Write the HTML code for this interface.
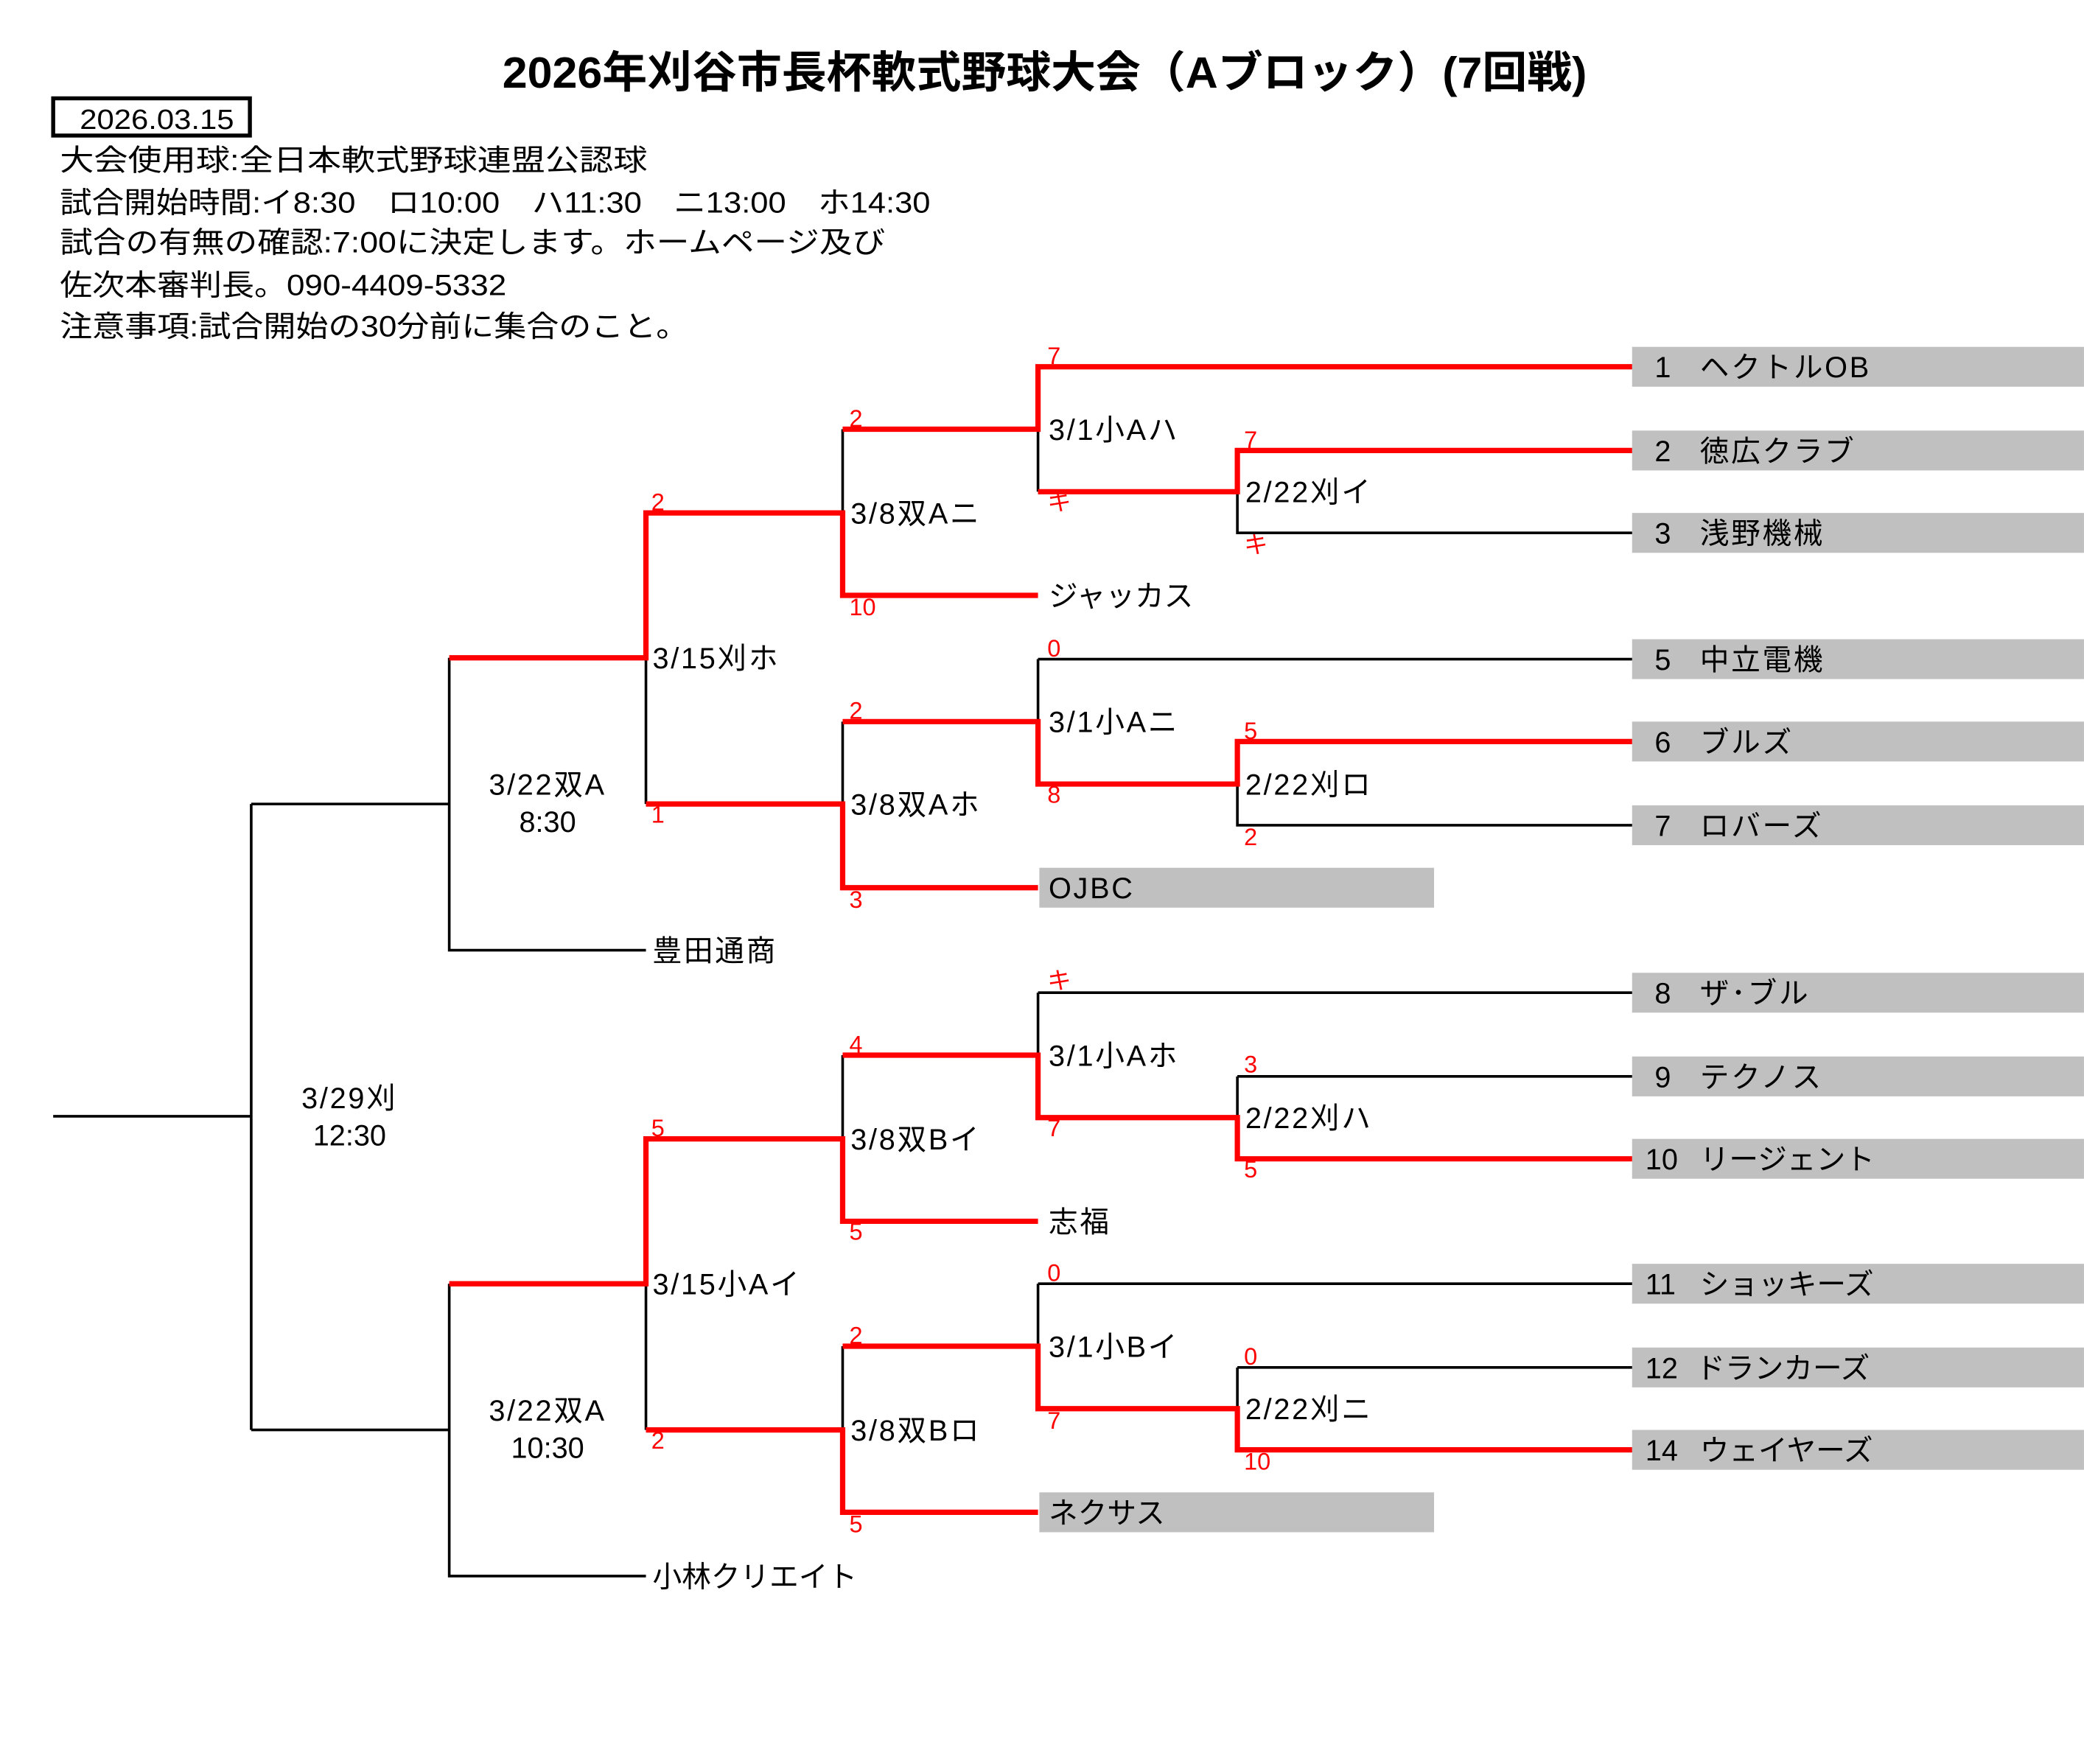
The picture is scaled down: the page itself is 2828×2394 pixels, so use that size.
<!DOCTYPE html>
<html><head><meta charset="utf-8">
<style>
html,body{margin:0;padding:0;background:#fff;}
svg{display:block;}
text{font-family:"Liberation Sans","Noto Sans CJK JP",sans-serif;}
.t{font-size:22px;fill:#000;}
.l{letter-spacing:1.5px;}
.s{font-size:18px;fill:#f00;}
.k{stroke:#000;stroke-width:2;fill:none;}
.r{stroke:#f00;stroke-width:4;fill:none;}
</style></head><body>
<svg width="2828" height="2394" viewBox="0 0 1568 1327.4" xmlns="http://www.w3.org/2000/svg">
<rect x="0" y="0" width="1568" height="1328" fill="#fff"/>
<text x="786" y="66" text-anchor="middle" font-size="33" font-weight="bold" textLength="816" lengthAdjust="spacingAndGlyphs">2026年刈谷市長杯軟式野球大会（Aブロック）(7回戦)</text>
<rect x="40" y="74" width="148" height="28" fill="none" stroke="#000" stroke-width="3"/>
<text x="60" y="97" font-size="21" textLength="116" lengthAdjust="spacingAndGlyphs">2026.03.15</text>
<text class="t" x="45" y="128" textLength="442" lengthAdjust="spacingAndGlyphs">大会使用球:全日本軟式野球連盟公認球</text>
<text class="t" x="45" y="160" textLength="655" lengthAdjust="spacingAndGlyphs">試合開始時間:イ8:30　ロ10:00　ハ11:30　ニ13:00　ホ14:30</text>
<text class="t" x="45" y="190" textLength="621" lengthAdjust="spacingAndGlyphs">試合の有無の確認:7:00に決定します。ホームページ及び</text>
<text class="t" x="45" y="222" textLength="336" lengthAdjust="spacingAndGlyphs">佐次本審判長。090-4409-5332</text>
<text class="t" x="45" y="253" textLength="473" lengthAdjust="spacingAndGlyphs">注意事項:試合開始の30分前に集合のこと。</text>

<g fill="#c0c0c0">
<rect x="1228" y="261" width="340" height="30"/>
<rect x="1228" y="324" width="340" height="30"/>
<rect x="1228" y="386" width="340" height="30"/>
<rect x="1228" y="481" width="340" height="30"/>
<rect x="1228" y="543" width="340" height="30"/>
<rect x="1228" y="606" width="340" height="30"/>
<rect x="1228" y="732" width="340" height="30"/>
<rect x="1228" y="795" width="340" height="30"/>
<rect x="1228" y="857" width="340" height="30"/>
<rect x="1228" y="951" width="340" height="30"/>
<rect x="1228" y="1014" width="340" height="30"/>
<rect x="1228" y="1076" width="340" height="30"/>
<rect x="782" y="653" width="297" height="30"/>
<rect x="782" y="1123" width="297" height="30"/>
</g>

<g class="k">
<path d="M931 370V401H1228"/>
<path d="M781 323V370"/>
<path d="M634 323V386"/>
<path d="M781 496H1228M781 496V543"/>
<path d="M931 590V621H1228"/>
<path d="M634 543V605"/>
<path d="M486 495V605"/>
<path d="M338 495V715H486M189 605H338"/>
<path d="M781 747H1228M781 747V794"/>
<path d="M931 810H1228M931 810V841"/>
<path d="M634 794V857"/>
<path d="M486 966V1076"/>
<path d="M781 966H1228M781 966V1013"/>
<path d="M931 1029H1228M931 1029V1060"/>
<path d="M634 1013V1076"/>
<path d="M338 966V1186H486M189 1076H338"/>
<path d="M189 605V1076M40 840H189"/>
</g>
<g class="r">
<path d="M1228 276H781V323H634"/>
<path d="M1228 339H931V370H781"/>
<path d="M781 448H634V386H486V495H338"/>
<path d="M1228 558H931V590H781V543H634"/>
<path d="M781 668H634V605H486"/>
<path d="M1228 872H931V841H781V794H634"/>
<path d="M781 919H634V857H486V966H338"/>
<path d="M1228 1091H931V1060H781V1013H634"/>
<path d="M781 1138H634V1076H486"/>
</g>

<g class="t">
<text x="1245" y="284">1</text><text class="l" x="1279" y="284">ヘクトルOB</text>
<text x="1245" y="347">2</text><text class="l" x="1279" y="347">徳広クラブ</text>
<text x="1245" y="409">3</text><text class="l" x="1279" y="409">浅野機械</text>
<text x="1245" y="504">5</text><text class="l" x="1279" y="504">中立電機</text>
<text x="1245" y="566">6</text><text class="l" x="1279" y="566">ブルズ</text>
<text x="1245" y="629">7</text><text class="l" x="1279" y="629">ロバーズ</text>
<text x="1245" y="755">8</text><text class="l" x="1279" y="755">ザ･ブル</text>
<text x="1245" y="818">9</text><text class="l" x="1279" y="818">テクノス</text>
<text x="1238" y="880">10</text><text x="1279" y="880">リージェント</text>
<text x="1238" y="974">11</text><text x="1279" y="974">ショッキーズ</text>
<text x="1238" y="1037">12</text><text x="1276" y="1037">ドランカーズ</text>
<text x="1238" y="1099">14</text><text x="1279" y="1099">ウェイヤーズ</text>
<text x="789" y="456">ジャッカス</text>
<text class="l" x="789" y="676">OJBC</text>
<text class="l" x="491" y="723">豊田通商</text>
<text class="l" x="789" y="927">志福</text>
<text x="789" y="1146">ネクサス</text>
<text x="491" y="1194">小林クリエイト</text>
<text class="l" x="937" y="378">2/22刈イ</text>
<text class="l" x="789" y="331">3/1小Aハ</text>
<text class="l" x="640" y="394">3/8双Aニ</text>
<text class="l" x="937" y="598">2/22刈ロ</text>
<text class="l" x="789" y="551">3/1小Aニ</text>
<text class="l" x="640" y="613">3/8双Aホ</text>
<text class="l" x="491" y="503">3/15刈ホ</text>
<text class="l" x="412" y="598" text-anchor="middle">3/22双A</text>
<text x="412" y="626" text-anchor="middle">8:30</text>
<text class="l" x="937" y="849">2/22刈ハ</text>
<text class="l" x="789" y="802">3/1小Aホ</text>
<text class="l" x="640" y="865">3/8双Bイ</text>
<text class="l" x="937" y="1068">2/22刈ニ</text>
<text class="l" x="789" y="1021">3/1小Bイ</text>
<text class="l" x="640" y="1084">3/8双Bロ</text>
<text class="l" x="491" y="974">3/15小Aイ</text>
<text class="l" x="412" y="1069" text-anchor="middle">3/22双A</text>
<text x="412" y="1097" text-anchor="middle">10:30</text>
<text class="l" x="263" y="834" text-anchor="middle">3/29刈</text>
<text x="263" y="862" text-anchor="middle">12:30</text>
</g>

<g class="s">
<text x="788" y="274">7</text>
<text x="936" y="337">7</text>
<text x="936" y="416">キ</text>
<text x="788" y="384">キ</text>
<text x="639" y="321">2</text>
<text x="639" y="463">10</text>
<text x="490" y="384">2</text>
<text x="490" y="619">1</text>
<text x="788" y="494">0</text>
<text x="936" y="556">5</text>
<text x="936" y="636">2</text>
<text x="788" y="604">8</text>
<text x="639" y="541">2</text>
<text x="639" y="683">3</text>
<text x="788" y="744">キ</text>
<text x="936" y="807">3</text>
<text x="936" y="886">5</text>
<text x="788" y="855">7</text>
<text x="639" y="792">4</text>
<text x="639" y="933">5</text>
<text x="490" y="855">5</text>
<text x="490" y="1090">2</text>
<text x="788" y="964">0</text>
<text x="936" y="1027">0</text>
<text x="936" y="1106">10</text>
<text x="788" y="1075">7</text>
<text x="639" y="1011">2</text>
<text x="639" y="1153">5</text>
</g>
</svg>
</body></html>
